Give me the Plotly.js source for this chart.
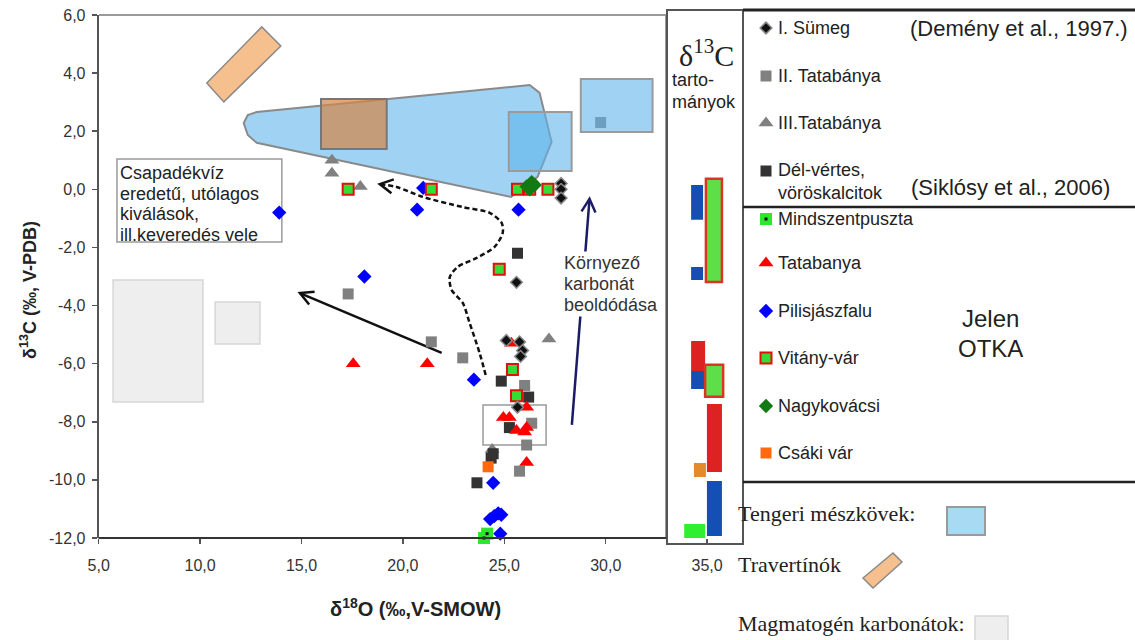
<!DOCTYPE html>
<html><head><meta charset="utf-8">
<script src="https://cdn.plot.ly/plotly-3.0.1.min.js"></script>
<style>html,body{margin:0;padding:0;background:#fff}</style>
</head><body><div id="chart" style="width:1135px;height:640px"></div>
<script>
// ---------------- data (δ18O ‰ V-SMOW, δ13C ‰ V-PDB) ----------------
const sumegX = [27.8, 27.8, 27.8, 25.6, 25.1, 25.75, 25.9, 25.8, 25.65];
const sumegY = [0.2, 0.0, -0.3, -3.2, -5.2, -5.25, -5.55, -5.75, -7.5];
const tata2X = [29.75, 17.3, 21.4, 22.95, 26.0, 26.35, 26.1, 25.75];
const tata2Y = [2.3, -3.6, -5.25, -5.8, -6.75, -8.05, -8.8, -9.7];
const tata3X = [16.5, 16.5, 17.9, 27.2, 24.4];
const tata3Y = [1.0, 0.55, 0.1, -5.15, -8.95];
const delvX = [25.65, 24.85, 26.2, 25.25, 24.45, 24.35, 23.65];
const delvY = [-2.2, -6.6, -7.15, -8.2, -9.1, -9.25, -10.1];
const mindX = [24.0, 24.3, 24.15];
const mindY = [-12.0, -12.05, -11.85];
const tatX = [17.55, 21.2, 25.35, 26.1, 24.95, 25.25, 25.6, 26.1, 26.0, 26.1];
const tatY = [-6.0, -6.0, -5.3, -7.5, -7.85, -7.85, -8.3, -8.2, -8.35, -9.4];
const pilX = [13.9, 20.7, 21.0, 25.7, 18.1, 23.5, 24.45, 24.3, 24.5, 24.7, 24.85, 24.8];
const pilY = [-0.8, -0.7, 0.05, -0.7, -3.0, -6.55, -10.1, -11.35, -11.25, -11.15, -11.2, -11.85];
const vitX = [17.3, 21.4, 25.65, 26.25, 27.15, 24.75, 25.4, 25.6];
const vitY = [0.0, 0.0, 0.0, 0.0, 0.0, -2.75, -6.2, -7.1];
const nagyX = [26.1, 26.35, 26.5, 26.25];
const nagyY = [0.1, 0.25, 0.15, 0.0];
const csakiX = [24.2];
const csakiY = [-9.55];

// reference fields
const marineX = [12.79, 26.25, 26.74, 27.33, 26.64, 25.33, 12.79, 12.35, 12.15, 12.35];
const marineY = [2.66, 3.59, 3.32, 1.63, 0.43, -0.26, 1.60, 1.87, 2.28, 2.56];
const travX = [10.33, 13.04, 13.98, 11.17];
const travY = [3.66, 5.59, 4.93, 3.01];
const brownBox = [15.96, 19.2, 1.39, 3.11];
const marineBox1 = [25.22, 28.32, 0.63, 2.66];
const marineBox2 = [28.77, 32.31, 1.97, 3.80];
const magmaBox1 = [5.71, 10.14, -7.32, -3.12];
const magmaBox2 = [10.74, 12.95, -5.32, -3.88];
const clusterBox = [23.95, 27.06, -8.80, -7.42];
const textBox = [5.9, 14.03, -1.81, 1.04];

// δ13C ranges column: [x0, x1, y0, y1]
const rangeBlue = [[34.21, 34.80, -1.05, 0.15], [34.21, 34.80, -3.12, -2.67], [34.21, 34.90, -6.87, -6.25], [34.99, 35.73, -11.93, -10.04]];
const rangeRed = [[34.21, 34.90, -6.25, -5.22], [34.99, 35.73, -9.73, -7.39]];
const rangeVit = [[34.94, 35.73, -3.19, 0.36], [34.90, 35.79, -7.14, -6.04]];
const rangeOrange = [[34.35, 34.94, -9.90, -9.42]];
const rangeMind = [[33.87, 34.90, -12.0, -11.52]];

// arrows
const solidArrowX = [21.91, 14.92], solidArrowY = [-5.63, -3.57];
const navyArrowX = [28.33, 29.20], navyArrowY = [-8.11, -0.33];
const dashX = [24.08, 23.78, 23.29, 22.95, 22.40, 22.31, 22.70, 23.64, 24.52, 24.92, 24.87, 24.28, 22.95, 20.98, 19.69, 18.86];
const dashY = [-6.39, -5.63, -4.60, -3.91, -3.46, -3.02, -2.67, -2.36, -1.98, -1.50, -1.16, -0.81, -0.61, -0.26, 0.08, 0.18];

// ticks
const xTickVals = [5, 10, 15, 20, 25, 30, 35];
const xTickText = ['5,0', '10,0', '15,0', '20,0', '25,0', '30,0', '35,0'];
const yTickVals = [6, 4, 2, 0, -2, -4, -6, -8, -10, -12];
const yTickText = ['6,0', '4,0', '2,0', '0,0', '-2,0', '-4,0', '-6,0', '-8,0', '-10,0', '-12,0'];

const legendNames = ['I. Sümeg', 'II. Tatabánya', 'III.Tatabánya', 'Dél-vértes,<br>vöröskalcitok', 'Mindszentpuszta', 'Tatabanya', 'Pilisjászfalu', 'Vitány-vár', 'Nagykovácsi', 'Csáki vár'];

// ---------------- layout geometry ----------------
const W = 1135, H = 640;
const xRange = [5, 37], yRange = [-12, 6];
const xDom = [98.7 / W, 747.7 / W];
const yDom = [1 - 538 / H, 1 - 15 / H];
const PXX = (xDom[1] - xDom[0]) * W / (xRange[1] - xRange[0]);
const PXY = (yDom[1] - yDom[0]) * H / (yRange[1] - yRange[0]);
const px = v => v / W, py = v => 1 - v / H;

const SANS = 'Liberation Sans, Arial, sans-serif';
const SERIF = 'Liberation Serif, Times New Roman, serif';

const styles = [
  {symbol: 'diamond', size: 9, color: '#111', line: {color: '#888', width: 1.5}},
  {symbol: 'square', size: 11, color: '#808080', line: {width: 0}},
  {symbol: 'triangle-up', size: 13, color: '#808080', line: {width: 0}},
  {symbol: 'square', size: 11, color: '#333333', line: {width: 0}},
  {symbol: 'square', size: 12, color: '#2ee62e', line: {width: 0}},
  {symbol: 'triangle-up', size: 13, color: '#ff0000', line: {width: 0}},
  {symbol: 'diamond', size: 11, color: '#0000ff', line: {width: 0}},
  {symbol: 'square', size: 11, color: '#33dd33', line: {color: '#e01010', width: 2}},
  {symbol: 'diamond', size: 11, color: '#137a13', line: {width: 0}},
  {symbol: 'square', size: 11, color: '#ff6a10', line: {width: 0}}
];
const seriesX = [sumegX, tata2X, tata3X, delvX, mindX, tatX, pilX, vitX, nagyX, csakiX];
const seriesY = [sumegY, tata2Y, tata3Y, delvY, mindY, tatY, pilY, vitY, nagyY, csakiY];
const drawOrder = [1, 2, 3, 9, 4, 5, 6, 7, 8, 0];

const traces = [];
traces.push({x: solidArrowX, y: solidArrowY, mode: 'lines', line: {color: '#111', width: 2.5}, hoverinfo: 'skip', showlegend: false});
traces.push({x: navyArrowX, y: navyArrowY, mode: 'lines', line: {color: '#1c1c66', width: 2.5}, hoverinfo: 'skip', showlegend: false});
traces.push({x: dashX, y: dashY, mode: 'lines', line: {color: '#111', width: 2.5, dash: '5px,3px', shape: 'spline', smoothing: 0.8}, hoverinfo: 'skip', showlegend: false});

drawOrder.forEach(i => {
  traces.push({x: seriesX[i], y: seriesY[i], mode: 'markers', marker: styles[i], showlegend: false, hoverinfo: 'x+y', cliponaxis: false});
  if (i === 4) traces.push({x: seriesX[i], y: seriesY[i], mode: 'markers', marker: {symbol: 'square', size: 3, color: '#111'}, showlegend: false, hoverinfo: 'skip', cliponaxis: false});
});

// legend symbols on pixel-space overlay axes
const legX = 766, legTextX = 778;
const legY = [28, 76, 123, 171, 219, 263, 311, 358, 406, 453];
legendNames.forEach((n, i) => {
  traces.push({x: [legX], y: [legY[i]], xaxis: 'x2', yaxis: 'y2', mode: 'markers', marker: styles[i], showlegend: false, hoverinfo: 'skip'});
  if (i === 4) traces.push({x: [legX], y: [legY[i]], xaxis: 'x2', yaxis: 'y2', mode: 'markers', marker: {symbol: 'square', size: 3, color: '#111'}, showlegend: false, hoverinfo: 'skip'});
});

// ---------------- shapes ----------------
const shapes = [];
const rect = (b, fill, line, lw, layer) => ({type: 'rect', xref: 'x', yref: 'y', x0: b[0], x1: b[1], y0: b[2], y1: b[3], fillcolor: fill, line: {color: line, width: lw}, layer: layer || 'below'});
const poly = (xs, ys) => 'M ' + xs.map((x, i) => x + ' ' + ys[i]).join(' L ') + ' Z';

shapes.push(rect(magmaBox1, '#eeeeee', '#d6d6d6', 1.5));
shapes.push(rect(magmaBox2, '#eeeeee', '#d6d6d6', 1.5));
shapes.push({type: 'path', xref: 'x', yref: 'y', path: poly(travX, travY), fillcolor: '#f5bf8e', line: {color: '#8a8a8a', width: 1.5}, layer: 'below'});
shapes.push({type: 'path', xref: 'x', yref: 'y', path: poly(marineX, marineY), fillcolor: 'rgba(95,180,235,0.6)', line: {color: '#8a8a8a', width: 2}, layer: 'below'});
shapes.push(rect(brownBox, 'rgba(210,135,75,0.72)', '#777', 2));
shapes.push(rect(marineBox1, 'rgba(95,180,235,0.6)', '#9a9a9a', 2));
shapes.push(rect(marineBox2, 'rgba(95,180,235,0.6)', '#9a9a9a', 2, 'above'));
shapes.push(rect(clusterBox, 'rgba(0,0,0,0)', '#9a9a9a', 1.5));
shapes.push(rect(textBox, 'rgba(0,0,0,0)', '#9a9a9a', 1.5));

rangeBlue.forEach(b => shapes.push(rect(b, '#1450b4', '#1450b4', 0, 'above')));
rangeRed.forEach(b => shapes.push(rect(b, '#dd2222', '#dd2222', 0, 'above')));
rangeVit.forEach(b => shapes.push(rect(b, '#5ede48', '#dd3322', 2.5, 'above')));
rangeOrange.forEach(b => shapes.push(rect(b, '#e58a2a', '#e58a2a', 0, 'above')));
rangeMind.forEach(b => shapes.push(rect(b, '#30ee30', '#30ee30', 0, 'above')));

function chevron(xs, ys, color, width) {
  const n = xs.length;
  const dx = (xs[n - 1] - xs[n - 2]) * PXX, dy = (ys[n - 1] - ys[n - 2]) * PXY;
  const L = Math.hypot(dx, dy), ux = dx / L, uy = dy / L;
  const len = 13, half = 7;
  const bx = -ux * len, by = -uy * len, qx = -uy * half, qy = ux * half;
  return {type: 'path', xref: 'x', yref: 'y', xsizemode: 'pixel', ysizemode: 'pixel', xanchor: xs[n - 1], yanchor: ys[n - 1],
    path: `M ${bx + qx} ${by + qy} L 0 0 L ${bx - qx} ${by - qy}`, line: {color, width}, layer: 'above'};
}
shapes.push(chevron(solidArrowX, solidArrowY, '#111', 2.5));
shapes.push(chevron(navyArrowX, navyArrowY, '#1c1c66', 2.5));
shapes.push(chevron([19.69, 18.86], [0.08, 0.18], '#111', 2.5));

const pline = (x0, y0, x1, y1, c, w) => ({type: 'line', xref: 'paper', yref: 'paper', x0: px(x0), y0: py(y0), x1: px(x1), y1: py(y1), line: {color: c, width: w}, layer: 'above'});
shapes.push(pline(99, 15, 667, 15, '#9a9a9a', 2));
shapes.push(pline(666, 15, 666, 538, '#9a9a9a', 2));
shapes.push(pline(98.7, 538, 667, 538, '#333', 2));
shapes.push({type: 'rect', xref: 'paper', yref: 'paper', x0: px(667), x1: px(743), y0: py(544), y1: py(10), line: {color: '#555', width: 2}, fillcolor: 'rgba(0,0,0,0)', layer: 'above'});
shapes.push(pline(743, 10, 1135, 10, '#222', 3));
shapes.push(pline(743, 207, 1135, 207, '#222', 2.5));
shapes.push(pline(743, 482, 1135, 482, '#222', 2.5));

shapes.push({type: 'rect', xref: 'x2', yref: 'y2', x0: 947, x1: 985, y0: 507, y1: 535, fillcolor: '#a9daf4', line: {color: '#9a9a9a', width: 2}});
shapes.push({type: 'path', xref: 'x2', yref: 'y2', path: 'M 863 578 L 893 553 L 902 562 L 873 588 Z', fillcolor: '#f5bf8e', line: {color: '#8a8a8a', width: 1.5}});
shapes.push({type: 'rect', xref: 'x2', yref: 'y2', x0: 975, x1: 1008, y0: 616, y1: 642, fillcolor: '#eeeeee', line: {color: '#d6d6d6', width: 1.5}});

// ---------------- annotations ----------------
const ann = [];
const T = (x, y, text, size, opts) => Object.assign({xref: 'x2', yref: 'y2', x, y, text, showarrow: false, xanchor: 'left', yanchor: 'middle', align: 'left', font: {family: SANS, size, color: '#222'}}, opts || {});
legendNames.forEach((n, i) => {
  if (i === 3) ann.push(T(legTextX - 2, legY[i] - 13, n, 18, {yanchor: 'top'}));
  else ann.push(T(legTextX - 2, legY[i], n, 18));
});
ann.push(T(1130, 28, '(Demény et al., 1997.)', 22, {xanchor: 'right'}));
ann.push(T(1112, 187, '(Siklósy et al., 2006)', 22, {xanchor: 'right'}));
ann.push(T(990, 318, 'Jelen', 24, {xanchor: 'center'}));
ann.push(T(990, 348, 'OTKA', 24, {xanchor: 'center'}));
const serifFont = {family: SERIF, size: 22, color: '#222'};
ann.push(T(736, 513, 'Tengeri mészkövek:', 22, {font: serifFont}));
ann.push(T(736, 564, 'Travertínók', 22, {font: serifFont}));
ann.push(T(736, 623, 'Magmatogén karbonátok:', 22, {font: serifFont}));
ann.push(T(706, 53, 'δ<sup>13</sup>C', 30, {xanchor: 'center', font: {family: SERIF, size: 30, color: '#222'}}));
ann.push(T(670, 80, 'tarto-', 18));
ann.push(T(670, 102, 'mányok', 18));
ann.push(T(118, 173, 'Csapadékvíz', 18));
ann.push(T(118, 194, 'eredetű, utólagos', 18));
ann.push(T(118, 214, 'kiválások,', 18));
ann.push(T(118, 235, 'ill.keveredés vele', 18));
const envFont = {family: SANS, size: 18, color: '#333'};
ann.push(T(562, 263, 'Környező', 18, {font: envFont, bgcolor: '#fff'}));
ann.push(T(562, 284, 'karbonát', 18, {font: envFont, bgcolor: '#fff'}));
ann.push(T(562, 305, 'beoldódása', 18, {font: envFont, bgcolor: '#fff'}));
ann.push(T(415, 607, 'δ<sup>18</sup>O (‰,V-SMOW)', 20, {xanchor: 'center', font: {family: SANS, size: 20, color: '#222', weight: 'bold'}}));
ann.push(T(28, 290, 'δ<sup>13</sup>C (‰, V-PDB)', 18, {xanchor: 'center', textangle: -90, font: {family: SANS, size: 18, color: '#222', weight: 'bold'}}));

const layout = {
  width: W, height: H,
  margin: {l: 0, r: 0, t: 0, b: 0},
  paper_bgcolor: '#fff', plot_bgcolor: 'rgba(0,0,0,0)',
  showlegend: false,
  font: {family: SANS, size: 16, color: '#222'},
  xaxis: {domain: xDom, range: xRange, tickvals: xTickVals, ticktext: xTickText, ticks: 'outside', ticklen: 5, tickwidth: 1.5, tickcolor: '#555',
    showgrid: false, zeroline: false, showline: false, tickfont: {family: SANS, size: 16, color: '#333'}, ticklabelstandoff: 8, anchor: 'y'},
  yaxis: {domain: yDom, range: yRange, tickvals: yTickVals, ticktext: yTickText, ticks: 'outside', ticklen: 5, tickwidth: 1.5, tickcolor: '#555',
    showgrid: false, zeroline: false, showline: true, linecolor: '#555', linewidth: 2, tickfont: {family: SANS, size: 16, color: '#333'}, ticklabelstandoff: 3, anchor: 'x'},
  xaxis2: {domain: [0, 1], range: [0, W], visible: false, anchor: 'y2', fixedrange: true},
  yaxis2: {domain: [0, 1], range: [H, 0], visible: false, anchor: 'x2', fixedrange: true},
  shapes: shapes,
  annotations: ann
};
Plotly.newPlot('chart', traces, layout, {staticPlot: true, displayModeBar: false});
</script></body></html>
